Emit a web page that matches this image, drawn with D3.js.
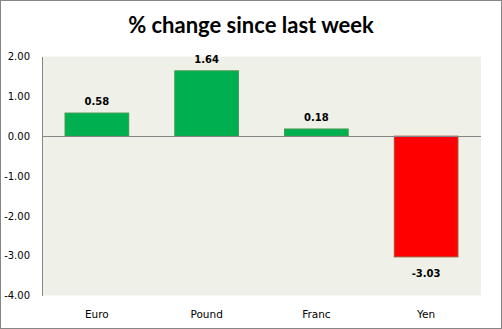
<!DOCTYPE html>
<html><head><meta charset="utf-8">
<script src="https://cdn.jsdelivr.net/npm/d3@7"></script>
<style>html,body{margin:0;padding:0;background:#fff;}svg{display:block;}</style>
</head><body>
<svg id="chart" width="502" height="329"></svg>
<script>
const categories = ["Euro", "Pound", "Franc", "Yen"];
const values = [0.58, 1.64, 0.18, -3.03];
const yTicks = [2, 1, 0, -1, -2, -3, -4];
const title = "% change since last week";

const W = 502, H = 329;
const plot = {left: 42, right: 481, top: 56.5, bottom: 295.5};
const svg = d3.select("#chart");
const fmt = d => d3.format(".2f")(d).replace("\u2212", "-");

svg.append("rect").attr("x", 0.5).attr("y", 0.5).attr("width", W - 1).attr("height", H - 1)
  .attr("fill", "#fff").attr("stroke", "#868686");

svg.append("rect").attr("x", plot.left).attr("y", plot.top)
  .attr("width", plot.right - plot.left).attr("height", plot.bottom - plot.top)
  .attr("fill", "#EFF0E8");

const x = d3.scaleBand().domain(categories).range([plot.left, plot.right]).paddingInner(0.42).paddingOuter(0.21);
const y = d3.scaleLinear().domain([-4, 2]).range([plot.bottom, plot.top]);

svg.append("text").attr("x", 251).attr("y", 33).attr("text-anchor", "middle")
  .attr("font-family", "Lato, 'Open Sans', sans-serif").attr("font-weight", "bold")
  .attr("font-size", 22).attr("fill", "#000").text(title);

// y axis
const yAxis = d3.axisLeft(y).tickValues(yTicks).tickFormat(fmt).tickSize(0).tickPadding(12);
const ya = svg.append("g").attr("transform", `translate(${plot.left},0)`).call(yAxis);
ya.select(".domain").attr("stroke", "#868686");
ya.selectAll("text").attr("font-family", "'DejaVu Sans', sans-serif").attr("font-size", 10).attr("fill", "#000");

// bars
svg.selectAll("rect.bar").data(values).join("rect").attr("class", "bar")
  .attr("x", (d, i) => x(categories[i]))
  .attr("width", x.bandwidth())
  .attr("y", d => y(Math.max(0, d)))
  .attr("height", d => Math.abs(y(d) - y(0)))
  .attr("fill", d => d >= 0 ? "#00B050" : "#FF0000")
  .attr("stroke", d => d >= 0 ? "#3C9A4E" : "#A0522D")
  .attr("stroke-width", 1);

// zero line
svg.append("line").attr("x1", plot.left).attr("x2", plot.right)
  .attr("y1", Math.round(y(0)) + 0.5).attr("y2", Math.round(y(0)) + 0.5)
  .attr("stroke", "#868686");

// value labels
svg.selectAll("text.val").data(values).join("text").attr("class", "val")
  .attr("x", (d, i) => x(categories[i]) + x.bandwidth() / 2)
  .attr("y", d => d >= 0 ? y(d) - 8 : y(d) + 20)
  .attr("text-anchor", "middle")
  .attr("font-family", "'DejaVu Sans', sans-serif").attr("font-weight", "bold")
  .attr("font-size", 10).attr("fill", "#000")
  .text(d => fmt(d));

// category labels
const xAxis = d3.axisBottom(x).tickSize(0).tickPadding(0);
const xa = svg.append("g").attr("transform", `translate(0,${plot.bottom})`).call(xAxis);
xa.select(".domain").remove();
xa.selectAll("text").attr("font-family", "'DejaVu Sans', sans-serif").attr("font-size", 10.5)
  .attr("fill", "#000").attr("dy", null).attr("y", 22);
</script>
</body></html>
